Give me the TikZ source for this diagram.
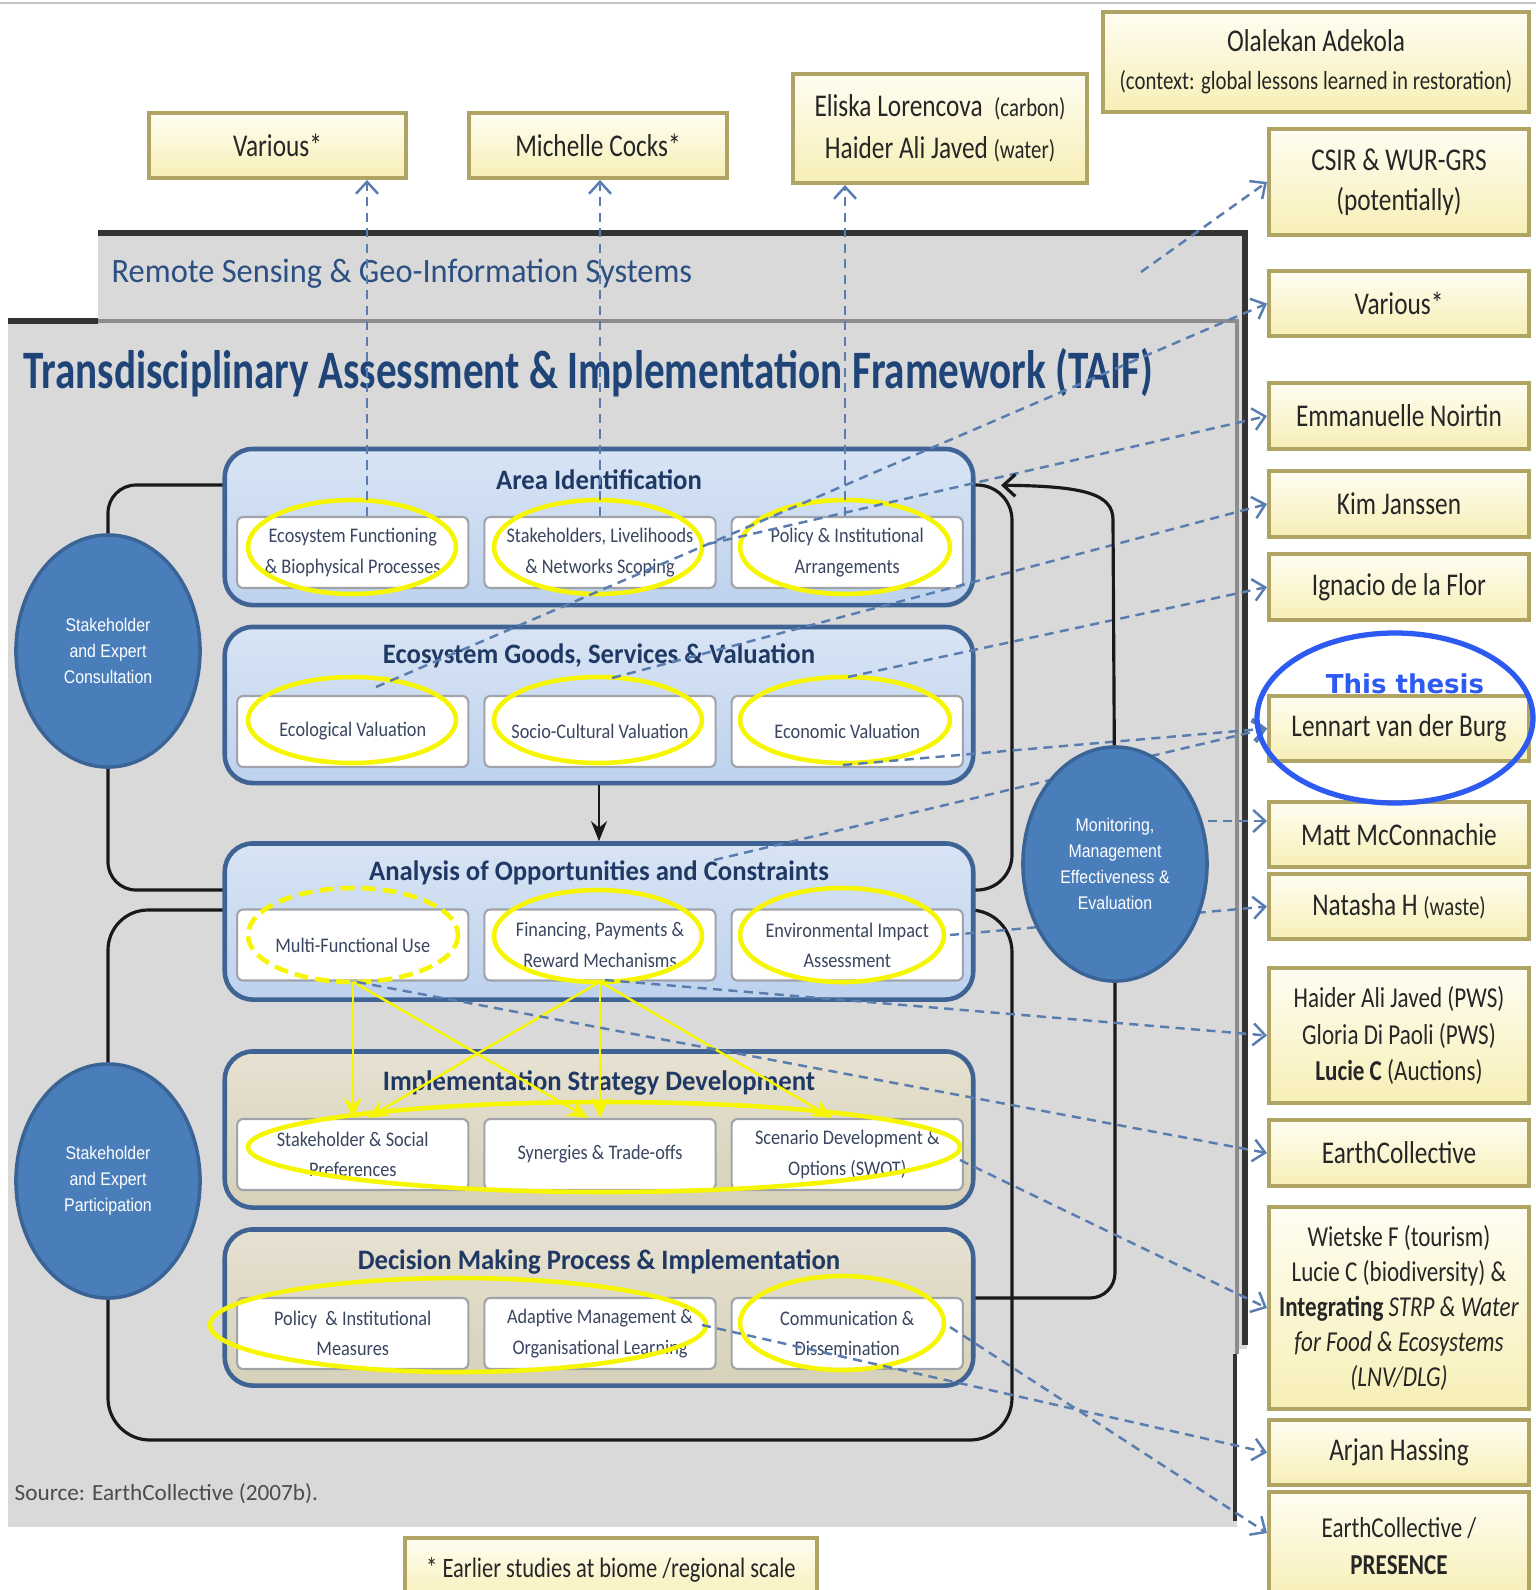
\documentclass[tikz,border=0pt]{standalone}
\usepackage{fontspec}
\setmainfont{Carlito}
\newfontfamily\namefont{Carlito}[FakeStretch=0.8]
\newfontfamily\headfont{Carlito}[FakeStretch=0.76]
\newfontfamily\rsfont{Carlito}[FakeStretch=0.95]
\newfontfamily\bandfont{Carlito}[FakeStretch=0.95]
\newfontfamily\boxfont{Carlito}[FakeStretch=0.88]
\newfontfamily\circfont{Liberation Sans}[FakeStretch=0.87]
\newfontfamily\thesisfont{DejaVu Sans}
\usetikzlibrary{positioning, arrows.meta, shapes.geometric}
\definecolor{bggray}{HTML}{D9D9D9}
\definecolor{darkedge}{HTML}{333333}
\definecolor{grayedge}{HTML}{8C8C8C}
\definecolor{bandedge}{HTML}{3E6394}
\definecolor{bandtop}{HTML}{D8E4F4}
\definecolor{bandbot}{HTML}{BED2EE}
\definecolor{tantop}{HTML}{E6E1D1}
\definecolor{tanbot}{HTML}{D7D1BA}
\definecolor{inedge}{HTML}{A0A4AA}
\definecolor{intext}{HTML}{3A4660}
\definecolor{navy}{HTML}{1F3864}
\definecolor{taifblue}{HTML}{1E4478}
\definecolor{rsblue}{HTML}{2C4F82}
\definecolor{hlyellow}{HTML}{F6F600}
\definecolor{linkblue}{HTML}{5A7DB0}
\definecolor{circfill}{HTML}{4A7EBB}
\definecolor{circedge}{HTML}{3A6396}
\definecolor{boxedge}{HTML}{B0A465}
\definecolor{nametop}{HTML}{FFFDF2}
\definecolor{namebot}{HTML}{F7EFB6}
\definecolor{thesisblue}{HTML}{2D5BF2}
\tikzset{namebox/.style={draw=boxedge, line width=1.1pt, top color=nametop, bottom color=namebot, minimum width=2.6cm, align=center, inner sep=2pt, text=black!85, font=\namefont\fontsize{9}{11}\selectfont}}
\tikzset{band/.style={draw=bandedge, line width=1.3pt, rounded corners=0.28cm, minimum width=7.48cm, minimum height=1.56cm, top color=bandtop, bottom color=bandbot}}
\tikzset{tanband/.style={band, top color=tantop, bottom color=tanbot}}
\tikzset{bandtitle/.style={text=navy, font=\bandfont\bfseries\fontsize{8}{9.6}\selectfont}}
\tikzset{inbox/.style={draw=inedge, line width=0.6pt, rounded corners=0.06cm, fill=white, minimum width=2.31cm, minimum height=0.71cm, align=center, inner sep=1pt, text=intext, font=\boxfont\fontsize{5.9}{8.6}\selectfont}}
\tikzset{hl/.style={draw=hlyellow, line width=1.3pt}}
\tikzset{yarrow/.style={draw=hlyellow, line width=0.7pt, -{Stealth[length=2mm, width=1.8mm]}}}
\tikzset{loopline/.style={draw=black!90, line width=0.9pt}}
\tikzset{link/.style={draw=linkblue, line width=0.7pt, dash pattern=on 2.6pt off 1.8pt, -{Straight Barb[length=1.2mm, width=2.2mm]}}}
\tikzset{actor/.style={ellipse, draw=circedge, line width=1pt, fill=circfill, minimum width=1.84cm, minimum height=2.32cm, inner sep=0pt, align=center, text=white, font=\circfont\fontsize{5.2}{7.4}\selectfont}}

\begin{document}
\begin{tikzpicture}[x=0.01cm, y=-0.01cm]
\useasboundingbox (0,0) rectangle (1536,1590);
\draw[gray!45, line width=0.6pt] (0,3) -- (1536,3);

% panels
\fill[bggray] (98,231) rectangle (1247,1349);
\draw[darkedge, line width=1.6pt] (98,233) -- (1245,233) -- (1245,1345);
\fill[bggray] (8,319) rectangle (1237,1527);
\draw[darkedge, line width=1.6pt] (8,321) -- (98,321);
\draw[grayedge, line width=1.4pt] (98,321) -- (1237,321) -- (1237,1354);
\draw[darkedge, line width=1.4pt] (1235,1354) -- (1235,1521);

\node[anchor=west, inner sep=0pt, text=rsblue, font=\rsfont\fontsize{9.7}{11}\selectfont] (rstitle) at (111,274) {Remote Sensing \& Geo-Information Systems};
\node[text=taifblue, font=\headfont\bfseries\fontsize{15.4}{18}\selectfont] (taif) at (588,373) {Transdisciplinary Assessment \& Implementation Framework (TAIF)};
\node[anchor=west, inner sep=0pt, text=black!70, font=\fontsize{6.6}{8}\selectfont] (source) at (14,1494) {Source: EarthCollective (2007b).};

% circles (placed now, drawn again on top later)
\path (108,651) coordinate (consult) (108,1181) coordinate (particip) (1115,864) coordinate (monitor);

% loops
\draw[loopline, rounded corners=0.28cm] (599,485) -- (225,485) -| (consult);
\draw[loopline, rounded corners=0.28cm] (consult) |- (225,890);
\draw[loopline, rounded corners=0.4cm] (225,910) -| (particip);
\draw[loopline, rounded corners=0.42cm] (particip) |- (1012,1440) |- (973,910);
\draw[loopline, rounded corners=0.35cm] (973,485) -| (1012,700) |- (973,890);
\draw[loopline, rounded corners=0.25cm] (monitor) |- (973,1298);

% bands
\node[band] (b1) at (599,527) {};
\node[band] (b2) at (599,705) {};
\node[band] (b3) at (599,921.5) {};
\node[tanband] (b4) at (599,1129.5) {};
\node[tanband] (b5) at (599,1307.5) {};
\node[bandtitle] (t1) at (599,480) {Area Identification};
\node[bandtitle] (t2) at (599,656) {Ecosystem Goods, Services \& Valuation};
\node[bandtitle] (t3) at (599,873) {Analysis of Opportunities and Constraints};
\node[bandtitle] (t4) at (599,1083) {Implementation Strategy Development};
\node[bandtitle] (t5) at (599,1262) {Decision Making Process \& Implementation};

\node[inbox] (a2) at (600,552.5) {Stakeholders, Livelihoods\\\& Networks Scoping};
\node[inbox, left=0.14cm of a2] (a1) {Ecosystem Functioning\\\& Biophysical Processes};
\node[inbox, right=0.14cm of a2] (a3) {Policy \& Institutional\\Arrangements};
\node[inbox] (e2) at (600,731.5) {Socio-Cultural Valuation};
\node[inbox, left=0.14cm of e2] (e1) {Ecological Valuation};
\node[inbox, right=0.14cm of e2] (e3) {Economic Valuation};
\node[inbox] (o2) at (600,945) {Financing, Payments \&\\Reward Mechanisms};
\node[inbox, left=0.14cm of o2] (o1) {Multi-Functional Use};
\node[inbox, right=0.14cm of o2] (o3) {Environmental Impact\\Assessment};
\node[inbox] (s2) at (600,1154.5) {Synergies \& Trade-offs};
\node[inbox, left=0.14cm of s2] (s1) {Stakeholder \& Social\\Preferences};
\node[inbox, right=0.14cm of s2] (s3) {Scenario Development \&\\Options (SWOT)};
\node[inbox] (d2) at (600,1333.5) {Adaptive Management \&\\Organisational Learning};
\node[inbox, left=0.14cm of d2] (d1) {Policy~ \& Institutional\\Measures};
\node[inbox, right=0.14cm of d2] (d3) {Communication \&\\Dissemination};

% yellow highlights
\draw[hl] (352,547) ellipse [x radius=104, y radius=47];
\draw[hl] (598,547) ellipse [x radius=104, y radius=47];
\draw[hl] (845,547) ellipse [x radius=105, y radius=47];
\draw[hl] (352,720) ellipse [x radius=104, y radius=43];
\draw[hl] (598,720) ellipse [x radius=104, y radius=43];
\draw[hl] (845,720) ellipse [x radius=105, y radius=43];
\draw[hl, dash pattern=on 4pt off 2pt] (353,935) ellipse [x radius=105, y radius=47];
\draw[hl] (598,936) ellipse [x radius=104, y radius=46];
\draw[hl] (842,935) ellipse [x radius=102, y radius=47];
\draw[hl] (604,1147) ellipse [x radius=356, y radius=45];
\draw[hl] (458,1325) ellipse [x radius=248, y radius=47];
\draw[hl] (842,1323) ellipse [x radius=102, y radius=47];

\draw[yarrow] (o1.south) -- (s1.north);
\draw[yarrow] (o1.south) -- ([xshift=-0.12cm]s2.north);
\draw[yarrow] (o2.south) -- ([xshift=0.15cm]s1.north);
\draw[yarrow] (o2.south) -- (s2.north);
\draw[yarrow] (o2.south) -- ([xshift=-0.15cm]s3.north);
\draw[loopline, line width=0.6pt, -{Stealth[length=2mm, width=1.6mm]}] (b2.south) -- (b3.north);

% contributor boxes
\node[namebox, minimum width=2.57cm, minimum height=0.65cm] (topvar) at (277.5,145.5) {Various*};
\node[namebox, minimum width=2.58cm, minimum height=0.65cm] (cocks) at (598,145.5) {Michelle Cocks*};
\node[namebox, minimum width=2.94cm, minimum height=1.09cm, font=\namefont\fontsize{9}{12}\selectfont] (eliska) at (940,128.5) {Eliska Lorencova~ {\fontsize{7.4}{9}\selectfont(carbon)}\\Haider Ali Javed {\fontsize{7.4}{9}\selectfont(water)}};
\node[namebox, minimum width=4.26cm, minimum height=1.0cm, font=\namefont\fontsize{9}{10.7}\selectfont] (adekola) at (1316,62) {Olalekan Adekola\\{\fontsize{7.4}{9}\selectfont(context: global lessons learned in restoration)}};
\node[namebox, minimum height=1.06cm, font=\namefont\fontsize{9}{11.4}\selectfont] (csir) at (1399,182) {CSIR \& WUR-GRS\\(potentially)};
\node[namebox, minimum height=0.65cm] (rvar) at (1399,303.5) {Various*};
\node[namebox, minimum height=0.66cm] (noirtin) at (1399,416) {Emmanuelle Noirtin};
\node[namebox, minimum height=0.66cm] (janssen) at (1399,504) {Kim Janssen};
\node[namebox, minimum height=0.66cm] (flor) at (1399,587) {Ignacio de la Flor};
\node[namebox, minimum height=0.65cm] (burg) at (1399,728.5) {Lennart van der Burg};
\node[namebox, minimum height=0.65cm] (mcconn) at (1399,834.5) {Matt McConnachie};
\node[namebox, minimum height=0.65cm] (natasha) at (1399,906.5) {Natasha H {\fontsize{7.4}{9}\selectfont(waste)}};
\node[namebox, minimum height=1.35cm, font=\namefont\fontsize{8.2}{10.4}\selectfont] (pws) at (1399,1035.5) {Haider Ali Javed (PWS)\\Gloria Di Paoli (PWS)\\\textbf{Lucie C} (Auctions)};
\node[namebox, minimum height=0.66cm] (ecoll) at (1399,1153) {EarthCollective};
\node[namebox, minimum height=2.02cm, font=\namefont\fontsize{8.2}{10}\selectfont] (wietske) at (1399,1308) {Wietske F (tourism)\\Lucie C (biodiversity) \&\\\textbf{Integrating} \textit{STRP \& Water}\\\textit{for Food \& Ecosystems}\\\textit{(LNV/DLG)}};
\node[namebox, minimum height=0.65cm] (hassing) at (1399,1452.5) {Arjan Hassing};
\node[namebox, minimum height=1.08cm, font=\namefont\fontsize{8.2}{10.6}\selectfont] (presence) at (1399,1546) {EarthCollective /\\\textbf{PRESENCE}};
\node[namebox, minimum width=4.11cm, minimum height=0.64cm, font=\namefont\fontsize{8}{10}\selectfont] (earlier) at (611,1570) {* Earlier studies at biome /regional scale};

% dashed links
\coordinate (fromEcol) at (376,687);
\coordinate (fromStak) at (708,544);
\coordinate (fromServ) at (612,678);
\coordinate (fromValu) at (848,677);
\coordinate (fromEcon) at (843,765);
\coordinate (fromCons) at (714,860);
\coordinate (fromEnvi) at (950,935);
\coordinate (fromFina) at (605,980);
\coordinate (fromMult) at (357,982);
\coordinate (fromScen) at (960,1160);
\coordinate (fromAdap) at (702,1325);
\coordinate (fromComm) at (950,1327);
\coordinate (fromGeo) at (1141,272);
\draw[link] (a1.north -| 367,0) -- (367,0 |- topvar.south);
\draw[link] (a2.north) -- (600,0 |- cocks.south);
\draw[link] (a3.north -| 845,0) -- (845,0 |- eliska.south);
\draw[link] (fromGeo) -- (csir.west);
\draw[link] (fromEcol) -- (rvar.west);
\draw[link] (fromStak) -- (noirtin.west);
\draw[link] (fromServ) -- (janssen.west);
\draw[link] (fromValu) -- (flor.west);
\draw[link] (fromEcon) -- (burg.west);
\draw[link] (fromCons) -- (burg.west);
\draw[link] (monitor |- 0,821) -- (mcconn.west |- 0,821);
\draw[link] (fromEnvi) -- (natasha.west);
\draw[link] (fromFina) -- (pws.west);
\draw[link] (fromMult) -- (ecoll.west);
\draw[link] (fromScen) -- (wietske.west);
\draw[link] (fromAdap) -- (hassing.west);
\draw[link] (fromComm) -- (presence.west |- 0,1533);

% monitoring feedback to area identification
\draw[loopline, shorten >=0.28cm, -{Straight Barb[length=1.2mm, width=2.2mm]}] (monitor) -- (1113,520) .. controls (1113,494) and (1085,486) .. (973,485);

% circles
\node[actor] (consultC) at (consult) {Stakeholder\\and Expert\\Consultation};
\node[actor, minimum height=2.34cm] (participC) at (particip) {Stakeholder\\and Expert\\Participation};
\node[actor, minimum height=2.34cm] (monitorC) at (monitor) {Monitoring,\\Management\\Effectiveness \&\\Evaluation};

% this thesis
\draw[thesisblue, line width=1.5pt] (1395,718) ellipse [x radius=138, y radius=85];
\node[text=thesisblue, font=\thesisfont\bfseries\fontsize{7.4}{9}\selectfont] (thesis) at (1405,684) {This thesis};
\end{tikzpicture}
\end{document}
